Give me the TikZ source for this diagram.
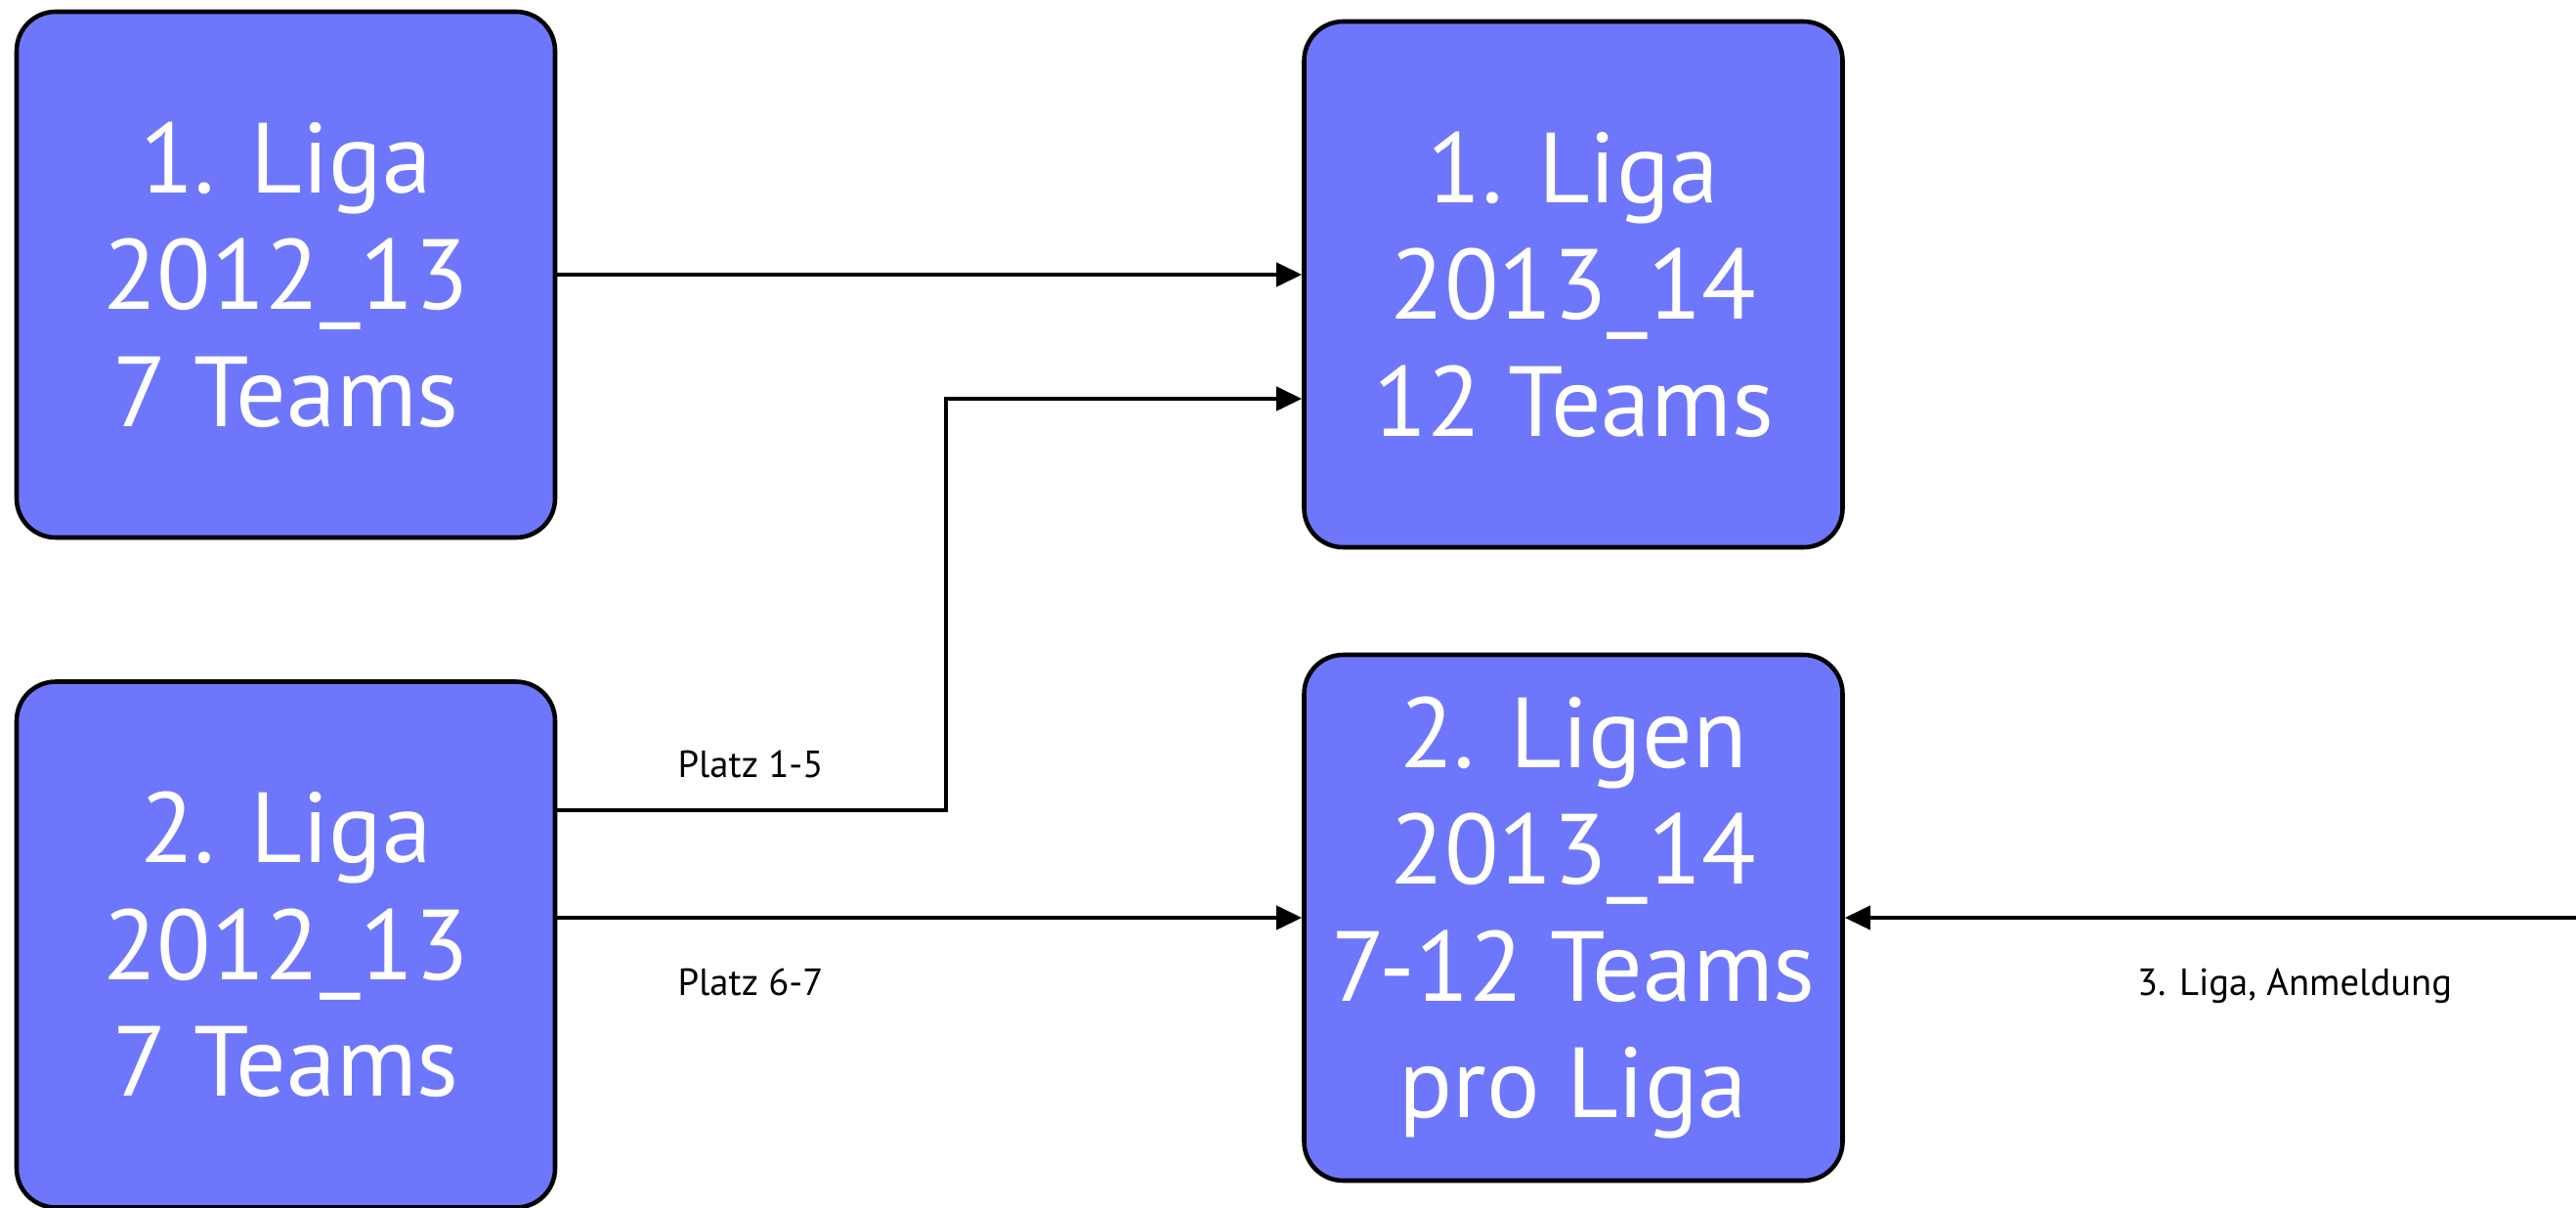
\documentclass[tikz,border=0pt]{standalone}
\usepackage{fontspec}
\setmainfont{PT Sans}
\usetikzlibrary{arrows.meta,calc}
\definecolor{ligablau}{RGB}{110,119,251}

\tikzset{
  liga/.style={draw=black, line width=1.3pt, fill=ligablau, rounded corners=0.4cm,
    minimum width=5.51cm, minimum height=5.38cm, inner sep=0pt, align=center,
    text=white, font=\fontsize{29}{34}\selectfont},
  pfeil/.style={draw=black, line width=1.2pt, -{Triangle[length=0.26cm,width=0.24cm]}},
  platz/.style={font=\fontsize{11}{13}\selectfont, inner sep=1pt}
}

\begin{document}
\begin{tikzpicture}
  \useasboundingbox (0,0) rectangle (26.36,12.35);
  \node[liga] (alt1) at (2.925,9.54) {1. Liga\\2012\_13\\7 Teams};
  \node[liga] (alt2) at (2.925,2.685) {2. Liga\\2012\_13\\7 Teams};
  \node[liga] (neu1) at (16.10,9.44) {1. Liga\\2013\_14\\12 Teams};
  \node[liga] (neu2) at (16.10,2.96) {2. Ligen\\2013\_14\\7-12 Teams\\pro Liga};

  \coordinate (knick) at (9.68,4.06);
  \coordinate (ein) at (9.68,8.27);
  \coordinate (drei) at (26.36,2.96);

  \draw[pfeil] (alt1) -- (alt1 -| neu1.west);
  \draw[pfeil] (knick -| alt2.east) -- (knick) -- (ein) -- (ein -| neu1.west);
  \draw[pfeil] (neu2.west -| alt2.east) -- (neu2.west);
  \draw[pfeil] (drei) -- (neu2.east);

  \node[platz] (p15) at (7.68,4.53) {Platz 1-5};
  \node[platz] (p67) at (7.68,2.30) {Platz 6-7};
  \node[platz] (anm) at (23.48,2.26) {3. Liga, Anmeldung};
\end{tikzpicture}
\end{document}
